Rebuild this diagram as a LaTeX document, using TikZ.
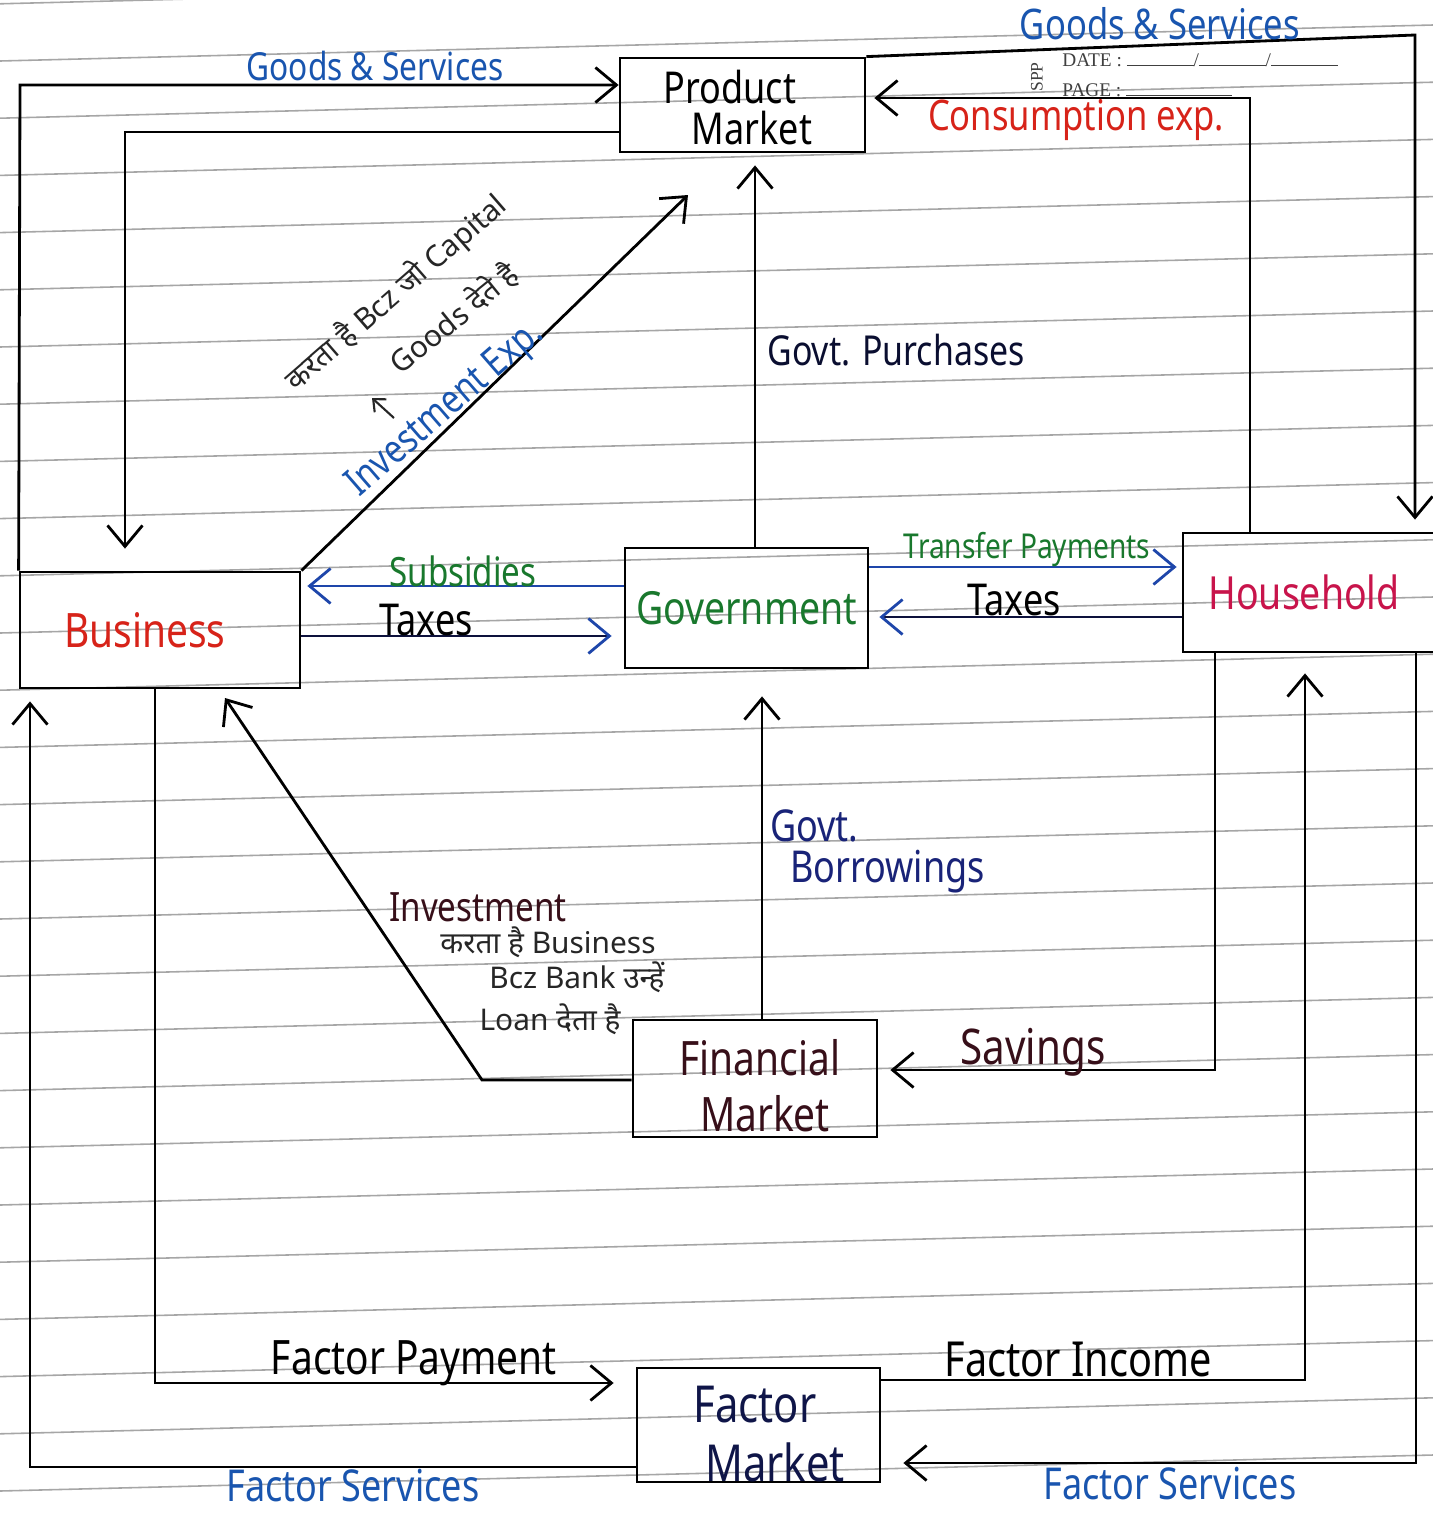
\documentclass[tikz,border=0pt]{standalone}
\usepackage{fontspec}
\setmainfont{Noto Sans}
\newfontfamily\hand[FakeStretch=0.82]{Noto Sans}
\newfontfamily\dev[Script=Devanagari]{Noto Sans}
\newfontfamily\printed{Liberation Serif}
\usetikzlibrary{arrows.meta,calc}
\definecolor{inkblue}{RGB}{25,85,175}
\definecolor{inkred}{RGB}{215,35,25}
\definecolor{inkcrimson}{RGB}{200,20,75}
\definecolor{inkgreen}{RGB}{25,120,45}
\definecolor{inknavy}{RGB}{25,35,120}
\definecolor{inkdark}{RGB}{55,15,25}
\definecolor{linkblue}{RGB}{30,70,170}
\newcommand{\hw}[1]{\hand\fontsize{#1}{#1}\selectfont}
\tikzset{
  box/.style={draw=black, line width=1.6pt, align=center, inner sep=0pt,
              font=\hw{26}},
  boxtext/.style={inner sep=0pt},
  conn/.style={line width=1.6pt, draw=black},
  arr/.style={conn, -{Straight Barb[length=4.2mm,width=7mm,line width=1.6pt]}},
  lbl/.style={font=\hw{22}, inner sep=1pt},
  devlbl/.style={font=\dev\fontsize{17}{20}\selectfont, inner sep=0pt, text=black!85},
  rulestyle/.style={draw=black!35, line width=0.9pt},
}
\begin{document}
\begin{tikzpicture}[x=0.02cm,y=-0.02cm]
\useasboundingbox (0,0) rectangle (1433,1515);
\clip (0,0) rectangle (1433,1515);
\fill[white] (0,0) rectangle (1433,1515);
% ruled notebook lines
\foreach \k in {-1,...,25} {
  \draw[rulestyle] (0,{61+57.2*\k}) -- (1433,{25+57.2*\k});
}
% stationery header
\node[font=\printed\fontsize{11}{12}\selectfont, text=black!75, anchor=west, inner sep=0pt] (date) at (1062,60) {DATE : \rule{38pt}{0.5pt}/\rule{38pt}{0.5pt}/\rule{38pt}{0.5pt}};
\node[font=\printed\fontsize{11}{12}\selectfont, text=black!75, anchor=west, inner sep=0pt] (page) at (1062,90) {PAGE : \rule{60pt}{0.5pt}};
\node[font=\printed\fontsize{10}{12}\selectfont, text=black!75, rotate=90, inner sep=0pt] (spp) at (1037,77) {SPP};

% boxes
\node[box, minimum width=4.9cm, minimum height=1.88cm] (pm) at (742.5,105) {};
\node[box, minimum width=4.86cm, minimum height=2.4cm, text=inkgreen] (gov) at (746.5,608) {Government};
\node[box, minimum width=5.6cm, minimum height=2.32cm, text=inkred, font=\hw{27}] (bus) at (160,630) {Business\hspace*{0.6cm}};
\node[box, minimum width=5.34cm, minimum height=2.38cm, text=inkcrimson] (hh) at (1316.5,592.5) {Household\hspace*{0.5cm}};
\node[box, minimum width=4.88cm, minimum height=2.34cm] (fm) at (755,1078.5) {};
\node[box, minimum width=4.86cm, minimum height=2.28cm] (fa) at (758.5,1425) {};
% two-line box texts
\node[boxtext, font=\hw{25}] (pmt1) at (730,87) {Product};
\node[boxtext, font=\hw{25}] (pmt2) at (752,128) {Market};
\node[boxtext, font=\hw{27}, text=inkdark] (fmt1) at (760,1058) {Financial};
\node[boxtext, font=\hw{27}, text=inkdark] (fmt2) at (765,1114) {Market};
\node[boxtext, font=\hw{29}, text=inknavy!60!black] (fat1) at (755,1405) {Factor};
\node[boxtext, font=\hw{29}, text=inknavy!60!black] (fat2) at (775,1462) {Market};

% waypoints
\coordinate (c1) at (20,85);
\coordinate (c2) at (125,132);
\coordinate (c3) at (1415,35);
\coordinate (c4) at (1250,98);
\coordinate (c5) at (688,195);
\coordinate (c6) at (755,300);
\coordinate (c7) at (460,586);
\coordinate (c8) at (450,636);
\coordinate (c9) at (1000,567);
\coordinate (c10) at (1000,617);
\coordinate (c11) at (762,900);
\coordinate (c12) at (482,1080);
\coordinate (c12b) at (225,698);
\coordinate (c13) at (1215,1070);
\coordinate (c14) at (155,1383);
\coordinate (c15) at (1305,1380);
\coordinate (c16) at (1416,1463);
\coordinate (c17) at (30,1467);

% connectors
\draw[arr] (bus.north west) -- (c1) -- (pm.west |- c1);
\draw[arr] (pm.west |- c2) -- (c2) -- ($(bus.north -| c2)+(0,-22)$);
\draw[arr] (pm.north east) -- (c3) -- ($(hh.north -| c3)+(0,-12)$);
\draw[arr] (hh.north -| c4) -- (c4) -- ($(pm.east |- c4)+(8,0)$);
\draw[arr] (bus.north east) -- (c5);
\draw[arr] (gov.north -| c6) -- ($(pm.south -| c6)+(0,12)$);
\draw[arr, draw=linkblue] (gov.west |- c7) -- ($(bus.east |- c7)+(6,0)$);
\draw[conn, draw=inknavy!50!black, -{Straight Barb[length=4.2mm,width=7mm,line width=1.6pt,color=linkblue]}] (bus.east |- c8) -- ($(gov.west |- c8)+(-12,0)$);
\draw[arr, draw=linkblue] (gov.east |- c9) -- ($(hh.west |- c9)+(-5,0)$);
\draw[conn, draw=inknavy!50!black, -{Straight Barb[length=4.2mm,width=7mm,line width=1.6pt,color=linkblue]}] (hh.west |- c10) -- ($(gov.east |- c10)+(10,0)$);
\draw[arr] (fm.north -| c11) -- ($(gov.south -| c11)+(0,27)$);
\draw[arr] (fm.west |- c12) -- (c12) -- (c12b);
\draw[arr] (hh.south -| c13) -- (c13) -- ($(fm.east |- c13)+(12,0)$);
\draw[arr] (bus.south -| c14) -- (c14) -- ($(fa.west |- c14)+(-22,0)$);
\draw[arr] (fa.east |- c15) -- (c15) -- ($(hh.south -| c15)+(0,20)$);
\draw[arr] (hh.south -| c16) -- (c16) -- ($(fa.east |- c16)+(22,0)$);
\draw[arr] (fa.west |- c17) -- (c17) -- ($(bus.south -| c17)+(0,12)$);

% labels
\node[lbl, text=inkblue] (lgs1) at (375,66) {Goods \& Services};
\node[lbl, text=inkblue, font=\hw{24}] (lgs2) at (1160,24) {Goods \& Services};
\node[lbl, text=inkred, font=\hw{24}] (lcons) at (1076,120) {Consumption exp.};
\node[lbl, text=inknavy!40!black, font=\hw{23.5}] (lgp) at (896,350) {Govt. Purchases};
\node[lbl, text=inkblue, rotate=41, font=\hw{22.5}] (linv) at (446,410) {Investment Exp.};
\node[devlbl, rotate=41] (h1) at (396,293) {करता है Bcz जो Capital};
\node[devlbl, rotate=39] (h2) at (454,318) {Goods देते है};
\coordinate (c18a) at (394,418);
\coordinate (c18b) at (372,398);
\draw[black!85, line width=1.2pt, -{Straight Barb[length=2mm,width=3.5mm]}] (c18a) -- (c18b);
\node[lbl, text=inkgreen, font=\hw{23}] (lsub) at (463,571) {Subsidies};
\node[lbl, text=black, font=\hw{25}] (ltax1) at (426,620) {Taxes};
\node[lbl, text=inkgreen, font=\hw{19.5}] (ltp) at (1027,549) {Transfer Payments};
\node[lbl, text=black, font=\hw{25}] (ltax2) at (1014,600) {Taxes};
\node[lbl, text=inknavy, anchor=west, font=\hw{25}] (lgb1) at (768,826) {Govt.};
\node[lbl, text=inknavy, anchor=west, font=\hw{25}] (lgb2) at (788,872) {Borrowings};
\node[lbl, text=inkdark, font=\hw{23}] (linv2) at (478,907) {Investment};
\node[devlbl] (h3) at (548,942) {करता है Business};
\node[devlbl] (h4) at (577,977) {Bcz Bank उन्हें};
\node[devlbl] (h5) at (550,1019) {Loan देता है};
\node[lbl, text=inkdark, font=\hw{28}] (lsav) at (1033,1052) {Savings};
\node[lbl, text=black, font=\hw{27}] (lfp) at (414,1363) {Factor Payment};
\node[lbl, text=black, font=\hw{27.5}] (lfi) at (1078,1359) {Factor Income};
\node[lbl, text=inkblue, font=\hw{25}] (lfs1) at (353,1486) {Factor Services};
\node[lbl, text=inkblue, font=\hw{25}] (lfs2) at (1170,1484) {Factor Services};
\end{tikzpicture}
\end{document}
